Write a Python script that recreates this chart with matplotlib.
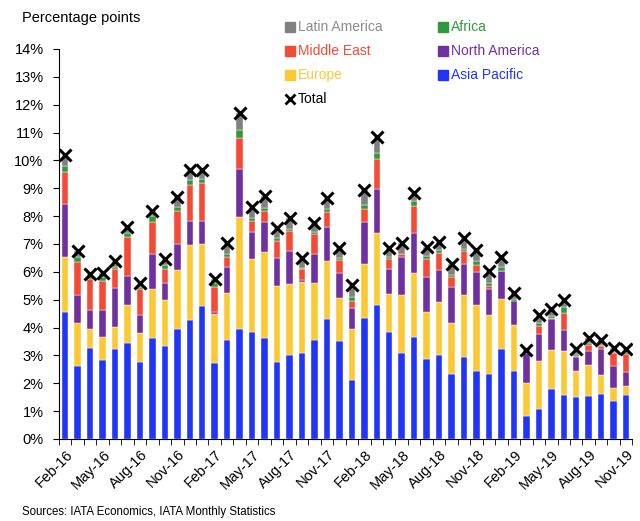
import numpy as np
import matplotlib
matplotlib.use("Agg")
import matplotlib.pyplot as plt
from matplotlib.lines import Line2D
from matplotlib.transforms import ScaledTranslation

plt.rcParams['font.family'] = ['Liberation Sans', 'DejaVu Sans']

months = ["Feb-16", "Mar-16", "Apr-16", "May-16", "Jun-16", "Jul-16", "Aug-16", "Sep-16", "Oct-16", "Nov-16", "Dec-16",
          "Jan-17", "Feb-17", "Mar-17", "Apr-17", "May-17", "Jun-17", "Jul-17", "Aug-17", "Sep-17", "Oct-17", "Nov-17", "Dec-17",
          "Jan-18", "Feb-18", "Mar-18", "Apr-18", "May-18", "Jun-18", "Jul-18", "Aug-18", "Sep-18", "Oct-18", "Nov-18", "Dec-18",
          "Jan-19", "Feb-19", "Mar-19", "Apr-19", "May-19", "Jun-19", "Jul-19", "Aug-19", "Sep-19", "Oct-19", "Nov-19"]

asia_pacific = [4.57, 2.63, 3.27, 2.84, 3.23, 3.46, 2.78, 3.63, 3.33, 3.95, 4.28, 4.76, 2.72, 3.54, 3.94, 3.85,
                3.64, 2.78, 3.02, 3.09, 3.54, 4.31, 3.51, 2.13, 4.34, 4.81, 3.84, 3.08, 3.67, 2.86, 3.03, 2.32,
                2.94, 2.45, 2.32, 3.24, 2.45, 0.84, 1.06, 1.79, 1.58, 1.51, 1.54, 1.63, 1.35, 1.58]
europe = [1.95, 1.53, 0.68, 0.82, 0.79, 1.35, 1.01, 1.75, 1.65, 2.13, 2.67, 2.25, 1.78, 1.70, 4.02, 2.61,
          3.06, 2.72, 2.53, 2.56, 2.05, 2.08, 1.56, 1.82, 1.94, 2.57, 1.36, 2.10, 2.28, 1.69, 1.88, 1.85,
          2.23, 2.35, 2.12, 1.79, 1.65, 1.18, 1.74, 1.40, 1.58, 0.93, 1.10, 0.66, 0.49, 0.33]
north_america = [1.93, 1.02, 0.67, 0.96, 1.41, 1.05, 0.66, 1.27, 0.63, 0.93, 0.89, 0.83, 0.05, 0.92, 1.74, 0.98,
                 1.10, 1.00, 1.21, 0.05, 1.06, 1.23, 0.90, 0.76, 1.51, 1.60, 0.91, 1.36, 1.46, 1.28, 1.16, 1.27,
                 1.12, 1.21, 0.93, 0.99, 0.84, 1.08, 0.98, 1.13, 0.75, 0.49, 0.53, 0.93, 0.78, 0.49]
middle_east = [1.13, 1.18, 1.12, 1.05, 0.68, 1.39, 0.95, 1.15, 0.50, 1.17, 1.29, 1.36, 0.91, 0.37, 1.10, 0.40,
               0.40, 0.62, 0.69, 0.41, 0.72, 0.54, 0.44, 0.24, 0.48, 1.08, 0.34, 0.09, 0.94, 0.64, 0.60, 0.36,
               0.45, 0.22, 0.13, 0.02, -0.05, -0.05, 0.29, 0.04, 0.61, 0.06, 0.19, 0.13, 0.46, 0.66]
africa = [0.22, 0.18, 0.11, 0.16, 0.06, 0.16, 0.04, 0.19, 0.14, 0.15, 0.17, 0.14, 0.13, 0.11, 0.30, 0.10,
          0.10, 0.11, 0.10, 0.04, 0.07, 0.11, 0.09, 0.15, 0.13, 0.22, 0.07, 0.02, 0.18, 0.11, 0.12, 0.10,
          0.09, 0.15, 0.11, 0.12, 0.08, 0.02, 0.08, 0.04, 0.23, 0.07, 0.07, 0.04, 0.04, 0.06]
latin_america = [0.39, 0.22, 0.06, 0.12, 0.23, 0.19, 0.17, 0.20, 0.21, 0.37, 0.34, 0.32, 0.14, 0.38, 0.61, 0.38,
                 0.42, 0.33, 0.39, 0.35, 0.30, 0.38, 0.34, 0.43, 0.54, 0.55, 0.35, 0.37, 0.31, 0.31, 0.27, 0.38,
                 0.37, 0.40, 0.42, 0.36, 0.28, 0.12, 0.29, 0.28, 0.24, 0.16, 0.18, 0.16, 0.14, 0.11]

series = [
    ("Asia Pacific", asia_pacific, "#2035F8"),
    ("Europe", europe, "#FCC834"),
    ("North America", north_america, "#7030A0"),
    ("Middle East", middle_east, "#F44A36"),
    ("Africa", africa, "#2E9B3A"),
    ("Latin America", latin_america, "#808080"),
]

fig = plt.figure(figsize=(6.4, 5.21), dpi=100)
ax = fig.add_axes([0.092, 0.1532, 0.896, 0.7528])

x = np.arange(len(months))
pos_bottom = np.zeros(len(months))
neg_bottom = np.zeros(len(months))
for name, vals, col in series:
    v = np.array(vals)
    bottom = np.where(v >= 0, pos_bottom, neg_bottom)
    ax.bar(x, v, width=0.52, bottom=bottom, color=col, edgecolor='white', linewidth=0.3, zorder=2)
    pos_bottom = pos_bottom + np.where(v >= 0, v, 0)
    neg_bottom = neg_bottom + np.where(v < 0, v, 0)

total = np.sum([np.array(s[1]) for s in series], axis=0)
ax.plot(x, total, linestyle='none', marker='x', color='black', markersize=9, markeredgewidth=2.2, zorder=3)

ax.set_xlim(-0.5, len(months) - 0.5)
ax.set_ylim(-0.08, 14)
ax.spines['top'].set_visible(False)
ax.spines['right'].set_visible(False)
ax.spines['bottom'].set_position(('data', 0))
ax.spines['left'].set_bounds(0, 14)

ax.set_yticks(np.arange(0, 15, 1))
ax.set_yticklabels([f"{v}%" for v in range(0, 15)], fontsize=10.5)
ax.tick_params(axis='y', direction='out', length=4, pad=7)

ax.set_xticks(x[::3])
ax.set_xticklabels(months[::3], rotation=45, ha='right', va='top', rotation_mode='anchor', fontsize=10.5)
ax.set_xticks(np.arange(-0.5, len(months), 1), minor=True)
ax.tick_params(axis='x', which='major', length=0, pad=6)
ax.tick_params(axis='x', which='minor', direction='out', length=4)
offset = ScaledTranslation(0.5 / 100, 0, fig.dpi_scale_trans)
for lbl in ax.get_xticklabels():
    lbl.set_transform(lbl.get_transform() + offset)

fig.text(22 / 640, 1 - 18 / 521, "Percentage points", fontsize=10.5, va='center', ha='left')
fig.text(22 / 640, 1 - 512 / 521, "Sources: IATA Economics, IATA Monthly Statistics", fontsize=8.3, va='center', ha='left')

legend_items = [
    ("Latin America", "#808080", "#8C8C8C", 290, 27),
    ("Africa", "#2E9B3A", "#2E9B3A", 443, 27),
    ("Middle East", "#F44A36", "#F44A36", 290, 51),
    ("North America", "#7030A0", "#7030A0", 443, 51),
    ("Europe", "#FCC834", "#FCC834", 290, 75),
    ("Asia Pacific", "#2035F8", "#2035F8", 443, 75),
]
for label, mcol, tcol, px, py in legend_items:
    fig.add_artist(Line2D([px / 640], [1 - py / 521], transform=fig.transFigure, marker='s',
                          markersize=7, color=mcol, linestyle='none'))
    fig.text((px + 8) / 640, 1 - py / 521, label, color=tcol, fontsize=10, va='center', ha='left')
fig.add_artist(Line2D([290 / 640], [1 - 99 / 521], transform=fig.transFigure, marker='x',
                      markersize=7, markeredgewidth=2, color='black', linestyle='none'))
fig.text(298 / 640, 1 - 99 / 521, "Total", color='black', fontsize=10, va='center', ha='left')

fig.savefig("out.png", dpi=100)
